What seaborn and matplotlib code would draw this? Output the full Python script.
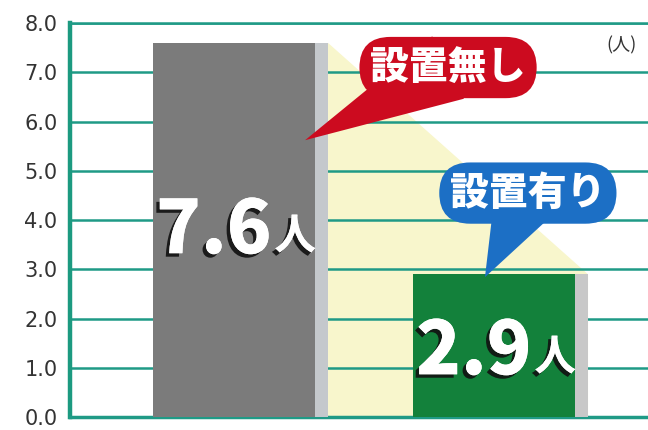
import numpy as np
import pandas as pd
import matplotlib
matplotlib.use("Agg")
import matplotlib.pyplot as plt
import matplotlib.patheffects as pe
from matplotlib.patches import Polygon
import seaborn as sns

# --- data ---
groups = ["設置無し", "設置有り"]
persons = [7.6, 2.9]
value_labels = ["7.6", "2.9"]
unit = "人"
unit_label = "(人)"
yticks = [0.0, 1.0, 2.0, 3.0, 4.0, 5.0, 6.0, 7.0, 8.0]

# --- styling ---
bar_colors = ["#7b7b7b", "#13813b"]
side_colors = ["#c4c8cc", "#c8c8c8"]
callout_colors = ["#cc0b1f", "#1c6fc5"]
grid_color = "#1f9a86"
yellow = "#f8f6cc"

sns.set_theme(style="white")
plt.rcParams["font.family"] = ["Noto Sans CJK JP", "DejaVu Sans"]

df = pd.DataFrame({"group": groups, "persons": persons})

fig = plt.figure(figsize=(6.48, 4.3), dpi=100)
fig.patch.set_facecolor("white")
ax = fig.add_axes([0.108, 0.030, 0.892, 0.916])

bw = 0.623
side = 0.05
sns.barplot(data=df, x="group", y="persons", hue="group", palette=bar_colors,
            saturation=1, width=bw, legend=False, ax=ax, linewidth=0, zorder=3)

# light side strip on the right of each bar
pos = np.arange(len(groups))
ax.bar(pos + bw / 2 + side / 2, persons, width=side, color=side_colors,
       linewidth=0, zorder=3)

# pale yellow wedge between the bars
xr = pos + bw / 2 + side
verts = [(xr[0], persons[0]), (xr[1], persons[1]), (xr[1], 0), (xr[0], 0)]
ax.add_patch(Polygon(verts, closed=True, fc=yellow, ec="none", zorder=0.3))

# axes, grid
ax.set_ylim(0, 8)
ax.set_xlim(-0.631, 1.592)
ax.set_yticks(yticks)
ax.set_yticklabels([f"{t:.1f}" for t in yticks], fontsize=15, color="#333333",
                   family="DejaVu Sans")
ax.set_xticks([])
ax.set_xlabel("")
ax.set_ylabel("")
ax.tick_params(axis="y", length=0, pad=9)
ax.yaxis.grid(True, color=grid_color, lw=1.8)
ax.set_axisbelow(True)
ax.spines["right"].set_visible(False)
ax.spines["top"].set_color(grid_color)
ax.spines["top"].set_linewidth(1.8)
ax.spines["left"].set_color("#1c9a80")
ax.spines["left"].set_linewidth(3.2)
ax.spines["bottom"].set_color(grid_color)
ax.spines["bottom"].set_linewidth(2.5)

# value labels inside the bars
label_base = [0.438, 0.30]
shadow = [pe.withSimplePatchShadow(offset=(-2.5, -2.5), shadow_rgbFace="#111111", alpha=0.9),
          pe.Normal()]
for i, (v, lab) in enumerate(zip(persons, value_labels)):
    y = v * label_base[i]
    ax.annotate(lab, xy=(i, y), xytext=(27, 0), textcoords="offset points",
                ha="right", va="baseline", fontsize=53, fontweight="black",
                color="white", path_effects=shadow, zorder=5)
    ax.annotate(unit, xy=(i, y), xytext=(29, 3), textcoords="offset points",
                ha="left", va="baseline", fontsize=30, fontweight="bold",
                color="white", path_effects=shadow, zorder=5)

# speech-bubble callouts
box_xy = [(0.823, 7.1), (1.13, 4.55)]
tip_x = [0.273, 0.965]
tip_frac = [0.74, 0.98]
for i, g in enumerate(groups):
    c = callout_colors[i]
    ax.annotate(g, xy=(tip_x[i], persons[i] * tip_frac[i]), xytext=box_xy[i],
                textcoords="data", ha="center", va="center", fontsize=28,
                fontweight="black", color="white", zorder=6,
                bbox=dict(boxstyle="round,pad=0.28,rounding_size=0.8", fc=c, ec="none"),
                arrowprops=dict(arrowstyle="wedge,tail_width=1.8,shrink_factor=0.5",
                                fc=c, ec="none", patchA=None, shrinkA=0, shrinkB=0))

ax.text(0.955, 0.944, unit_label, transform=ax.transAxes, ha="center",
        va="center", fontsize=13, color="#333333")

fig.savefig("out.png", dpi=100)
